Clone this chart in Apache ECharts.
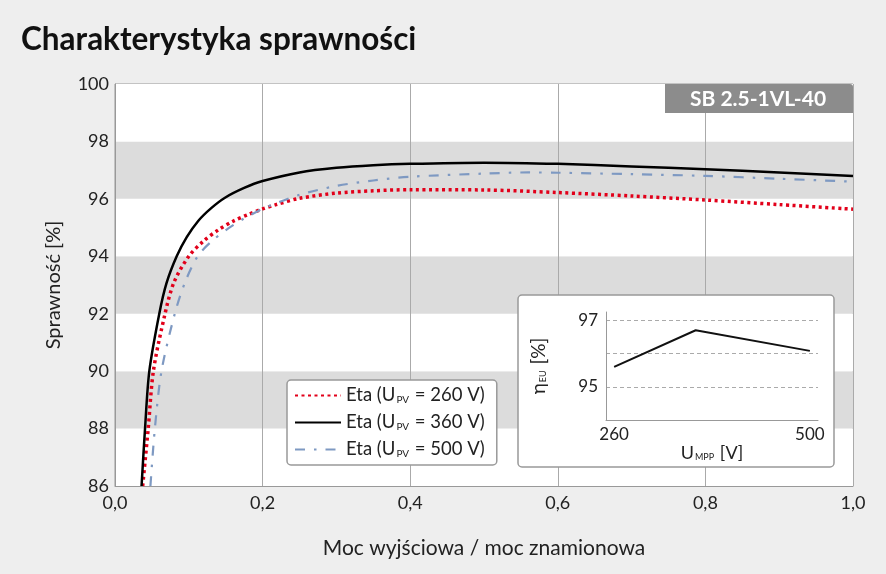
<!DOCTYPE html>
<html>
<head>
<meta charset="utf-8">
<script src="https://cdn.jsdelivr.net/npm/echarts@6/dist/echarts.min.js"></script>
<style>
html,body{margin:0;padding:0;background:#eeeeee;}
#c{width:886px;height:574px;}
</style>
</head>
<body>
<div id="c"></div>
<script>
// ---- data ----
var voltages = [260, 360, 500];
var eta260 = [[0.0375,86],[0.045,88],[0.052,90],[0.0678,92],[0.08,93.1],[0.1,94.0],[0.12,94.53],[0.14,94.92],[0.16,95.22],[0.181,95.46],[0.2,95.65],[0.217,95.79],[0.25,96.02],[0.3,96.2],[0.35,96.28],[0.4,96.32],[0.5,96.31],[0.6,96.22],[0.7,96.1],[0.8,95.96],[0.9,95.8],[1.0,95.64]];
var eta360 = [[0.036,86],[0.0407,88],[0.0465,90],[0.060,92],[0.07,93.08],[0.0836,94],[0.097,94.66],[0.113,95.24],[0.13,95.67],[0.149,96.04],[0.175,96.38],[0.2,96.62],[0.25,96.92],[0.3,97.08],[0.35,97.17],[0.4,97.22],[0.5,97.26],[0.6,97.22],[0.7,97.13],[0.8,97.03],[0.9,96.92],[1.0,96.8]];
var eta500 = [[0.048,86],[0.054,88],[0.063,90],[0.081,92],[0.095,93.1],[0.112,94],[0.13,94.5],[0.154,94.98],[0.175,95.32],[0.194,95.58],[0.2,95.66],[0.25,96.14],[0.3,96.45],[0.35,96.64],[0.4,96.77],[0.5,96.88],[0.56,96.92],[0.6,96.91],[0.7,96.86],[0.8,96.8],[0.9,96.7],[1.0,96.6]];
var euVoltages = [260, 360, 500];
var euEta = [95.6, 96.7, 96.08];

var FONT = 'Lato';
var chart = echarts.init(document.getElementById('c'));
function seriesName(v){ return 'Eta (UPV = ' + v + ' V)'; }
var nameToV = {};
voltages.forEach(function(v){ nameToV[seriesName(v)] = v; });

var subRich = function(size, subSize, pad){
  return {
    a: {fontFamily: FONT, fontSize: size, color: '#222', lineHeight: 20},
    s: {fontFamily: FONT, fontSize: subSize, color: '#222', padding: pad, lineHeight: 20}
  };
};

var option = {
  backgroundColor: '#eeeeee',
  textStyle: {fontFamily: FONT},
  title: {
    text: 'Charakterystyka sprawności',
    left: 16, top: 19,
    textStyle: {fontFamily: FONT, fontSize: 31.5, fontWeight: 'bold', color: '#111'}
  },
  legend: {
    data: voltages.map(seriesName),
    orient: 'vertical',
    left: 287, top: 380,
    padding: [6, 12, 6, 7],
    itemGap: 8,
    itemWidth: 46, itemHeight: 14,
    backgroundColor: '#ffffff',
    borderColor: '#999',
    borderWidth: 1.5,
    borderRadius: 4,
    itemStyle: {opacity: 0, color: 'rgba(0,0,0,0)', borderWidth: 0},
    formatter: function(name){
      var v = nameToV[name];
      return '{a|Eta (U}{s|PV}{a| = ' + v + ' V)}';
    },
    textStyle: {
      fontFamily: FONT, fontSize: 18.5, color: '#222',
      rich: subRich(18.5, 10, [8, 1, 0, 1])
    }
  },
  grid: [
    {left: 115, right: 33, top: 84, bottom: 88, show: true, backgroundColor: '#ffffff', borderColor: '#999', borderWidth: 1},
    {left: 606, top: 312, width: 212, height: 108, z: 10}
  ],
  xAxis: [
    {
      type: 'value', gridIndex: 0, min: 0, max: 1, interval: 0.2,
      name: 'Moc wyjściowa / moc znamionowa',
      nameLocation: 'middle', nameGap: 52,
      nameTextStyle: {fontFamily: FONT, fontSize: 21, color: '#222'},
      axisLine: {show: true, lineStyle: {color: '#999'}},
      axisTick: {show: false},
      axisLabel: {fontFamily: FONT, fontSize: 18, color: '#222', margin: 8,
        formatter: function(v){ return v.toFixed(1).replace('.', ','); }},
      splitLine: {show: true, lineStyle: {color: '#aaa', width: 1}}
    },
    {
      type: 'value', gridIndex: 1, min: 250, max: 510, z: 12,
      name: '{a|U}{s|MPP}{a| [V]}',
      nameLocation: 'middle', nameGap: 21,
      nameTextStyle: {fontFamily: FONT, fontSize: 18, color: '#222',
        rich: subRich(18, 9, [8, 1, 0, 1])},
      axisLine: {show: true, lineStyle: {color: '#999'}},
      axisTick: {show: false},
      axisLabel: {fontFamily: FONT, fontSize: 17, color: '#222', margin: 6, customValues: [260, 500]},
      splitLine: {show: false}
    }
  ],
  yAxis: [
    {
      type: 'value', gridIndex: 0, min: 86, max: 100, interval: 2,
      name: 'Sprawność [%]',
      nameLocation: 'middle', nameGap: 51, nameRotate: 90,
      nameTextStyle: {fontFamily: FONT, fontSize: 20, color: '#222'},
      axisLine: {show: true, lineStyle: {color: '#999'}},
      axisTick: {show: false},
      axisLabel: {fontFamily: FONT, fontSize: 18, color: '#222', margin: 6},
      splitLine: {show: false},
      splitArea: {show: true, areaStyle: {color: ['#ffffff', '#dcdcdc']}}
    },
    {
      type: 'value', gridIndex: 1, min: 94, max: 97.25, interval: 1, z: 12,
      name: '{a|η}{s|EU}{a| [%]}',
      nameLocation: 'middle', nameGap: 57, nameRotate: 90,
      nameTextStyle: {fontFamily: FONT, fontSize: 19, color: '#222',
        rich: subRich(19, 9, [8, 1, 0, 1])},
      axisLine: {show: true, lineStyle: {color: '#999'}},
      axisTick: {show: false},
      axisLabel: {fontFamily: FONT, fontSize: 17, color: '#222', margin: 8,
        formatter: function(v){ return (v === 95 || v === 97) ? String(v) : ''; }},
      splitLine: {show: true, showMaxLine: false, lineStyle: {color: '#aaa', type: [4, 3], width: 1}}
    }
  ],
  graphic: [
    {
      type: 'rect', z: 5, zlevel: 0,
      shape: {x: 518, y: 295, width: 316, height: 172, r: 4},
      style: {fill: '#ffffff', stroke: '#999', lineWidth: 1.5}
    },
    {
      type: 'rect', z: 6,
      shape: {x: 665, y: 84, width: 188, height: 29, r: [0, 3, 0, 0]},
      style: {fill: '#8c8c8c'}
    },
    {
      type: 'text', z: 7,
      x: 758, y: 99,
      style: {text: 'SB 2.5-1VL-40', fill: '#ffffff', font: 'bold 21px Lato', align: 'center', verticalAlign: 'middle'}
    }
  ],
  series: [
    {
      name: seriesName(voltages[0]), type: 'line', xAxisIndex: 0, yAxisIndex: 0,
      data: eta260, symbol: 'none', smooth: 0.3, z: 3,
      lineStyle: {color: '#e2001a', width: 3.5, type: [3, 3.5], cap: 'butt'},
      itemStyle: {color: '#e2001a'}
    },
    {
      name: seriesName(voltages[1]), type: 'line', xAxisIndex: 0, yAxisIndex: 0,
      data: eta360, symbol: 'none', smooth: 0.3, z: 4,
      lineStyle: {color: '#000000', width: 2.5, type: 'solid'},
      itemStyle: {color: '#000000'}
    },
    {
      name: seriesName(voltages[2]), type: 'line', xAxisIndex: 0, yAxisIndex: 0,
      data: eta500, symbol: 'none', smooth: 0.3, z: 3,
      lineStyle: {color: '#7e99c2', width: 2.2, type: [10, 9, 2.5, 9]},
      itemStyle: {color: '#7e99c2'}
    },
    {
      name: 'EU', type: 'line', xAxisIndex: 1, yAxisIndex: 1, z: 12,
      data: euVoltages.map(function(v, i){ return [v, euEta[i]]; }),
      symbol: 'none', lineStyle: {color: '#111', width: 2}
    }
  ]
};
chart.setOption(option);
</script>
</body>
</html>
